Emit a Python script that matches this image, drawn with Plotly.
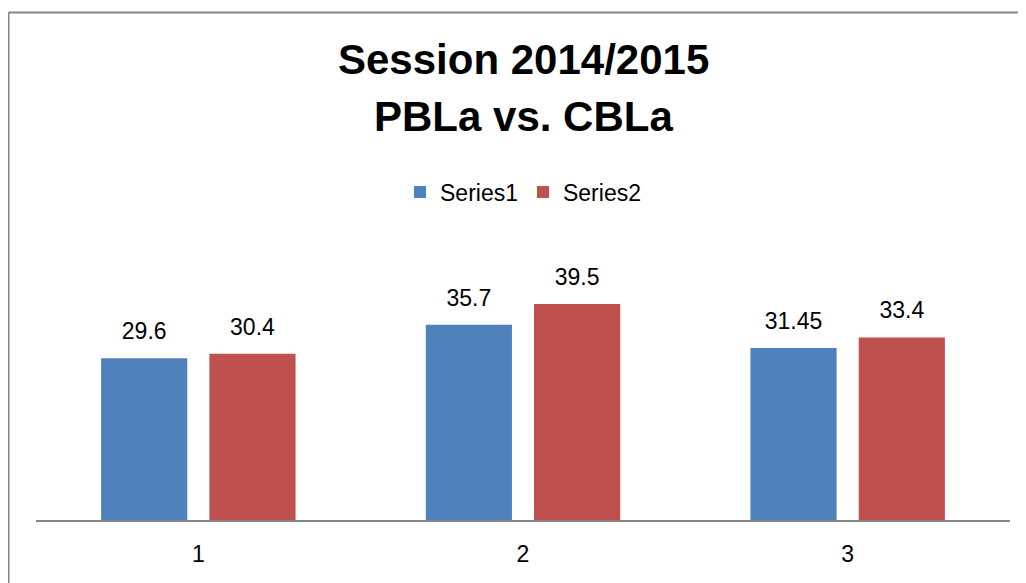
import plotly.graph_objects as go

categories = ["1", "2", "3"]
series1 = [29.6, 35.7, 31.45]
series2 = [30.4, 39.5, 33.4]
labels1 = ["29.6", "35.7", "31.45"]
labels2 = ["30.4", "39.5", "33.4"]
series_names = ["Series1", "Series2"]
colors = ["#4F81BD", "#C0504D"]

FONT = "Liberation Sans, Arial, sans-serif"

# figure pixel geometry (page has an 8px body margin)
W, H = 1018, 575
L, R, T, B = 28, 16, 266, 63
PW = W - L - R
PH = H - T - B


def px_x(p):
    return (p - L) / PW


def px_y(p):
    return (H - B - p) / PH


fig = go.Figure()
for name, vals, labs, col in zip(series_names, [series1, series2], [labels1, labels2], colors):
    fig.add_trace(go.Bar(name=name, x=categories, y=vals, offsetgroup=name,
                         marker=dict(color=col, line=dict(width=0)), hoverinfo="skip"))
for name, vals, labs in zip(series_names, [series1, series2], [labels1, labels2]):
    fig.add_trace(go.Scatter(x=categories, y=vals, text=labs, mode="markers+text",
                             orientation="v", offsetgroup=name, showlegend=False,
                             textposition="top center", cliponaxis=False, hoverinfo="skip",
                             marker=dict(size=20, opacity=0, color="rgba(0,0,0,0)"),
                             textfont=dict(size=23, color="#000000", family=FONT)))

fig.update_layout(
    width=W, height=H,
    margin=dict(l=L, r=R, t=T, b=B, pad=0),
    paper_bgcolor="white", plot_bgcolor="white",
    barmode="group", bargap=0.333, bargroupgap=0.204,
    scattermode="group", scattergap=0.333,
    font=dict(family=FONT, size=23, color="#000000"),
    showlegend=True,
    legend=dict(orientation="h", x=0.5, xanchor="center", y=px_y(184), yanchor="middle",
                font=dict(size=23, family=FONT), traceorder="normal"),
    xaxis=dict(showline=True, linecolor="#868686", linewidth=2, ticks="",
               showgrid=False, tickfont=dict(size=23, family=FONT), zeroline=False,
               ticklabelstandoff=12),
    yaxis=dict(range=[0, 45], visible=False, showgrid=False, zeroline=False),
    annotations=[
        dict(text="<b>Session 2014/2015</b>", x=0.5, xref="paper", y=px_y(51.5), yref="paper",
             xanchor="center", yanchor="middle", showarrow=False, font=dict(size=42, family=FONT)),
        dict(text="<b>PBLa vs. CBLa</b>", x=0.5, xref="paper", y=px_y(108.5), yref="paper",
             xanchor="center", yanchor="middle", showarrow=False, font=dict(size=42, family=FONT)),
    ],
    shapes=[
        dict(type="line", xref="paper", yref="paper", x0=px_x(0.5), x1=px_x(W + 20),
             y0=px_y(4.5), y1=px_y(4.5), line=dict(color="#868686", width=2)),
        dict(type="line", xref="paper", yref="paper", x0=px_x(0.5), x1=px_x(0.5),
             y0=px_y(4.5), y1=px_y(H + 20), line=dict(color="#868686", width=2)),
    ],
)

fig.write_html("out.html")
